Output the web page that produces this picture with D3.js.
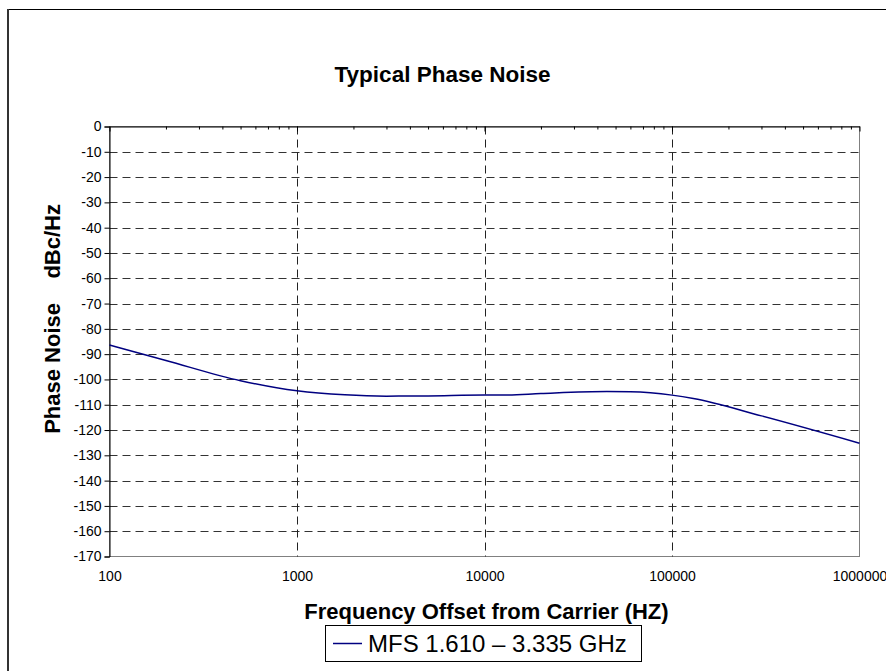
<!DOCTYPE html>
<html>
<head>
<meta charset="utf-8">
<script src="https://cdn.jsdelivr.net/npm/d3@7"></script>
<style>
  body { margin: 0; background: #fff; }
  svg { display: block; font-family: "Liberation Sans", Arial, sans-serif; }
</style>
</head>
<body>
<div id="chart"></div>
<script>
// offset frequency (Hz) and phase noise (dBc/Hz)
const freqs = [100, 200, 500, 1000, 1800, 3000, 5000, 10000, 13000, 20000, 45000, 60000, 100000, 130000, 300000, 1000000];
const noise = [-86.4, -92.5, -100.5, -104.5, -106.1, -106.6, -106.5, -106.2, -106.2, -105.6, -104.8, -104.9, -106.2, -107.5, -114.4, -125.2];
const xTicks = [100, 1000, 10000, 100000, 1000000];
const yTicks = d3.range(-170, 1, 10);
const seriesName = 'MFS 1.610 \u2013 3.335 GHz';

const width = 886;
const height = 671;
const plot = { left: 109.5, right: 859.5, top: 126.5, bottom: 556.5 };

const svg = d3.select('#chart')
  .append('svg')
  .attr('width', width)
  .attr('height', height);

// chart frame (only left and top edges fall inside the picture)
svg.append('line')
  .attr('x1', 7).attr('x2', width)
  .attr('y1', 9.5).attr('y2', 9.5)
  .attr('stroke', '#000');
svg.append('line')
  .attr('x1', 8).attr('x2', 8)
  .attr('y1', 9).attr('y2', height)
  .attr('stroke', '#333')
  .attr('stroke-width', 2);

const x = d3.scaleLog()
  .domain([100, 1000000])
  .range([plot.left, plot.right]);
const y = d3.scaleLinear()
  .domain([-170, 0])
  .range([plot.bottom, plot.top]);

// plot border
svg.append('rect')
  .attr('x', plot.left)
  .attr('y', plot.top)
  .attr('width', plot.right - plot.left)
  .attr('height', plot.bottom - plot.top)
  .attr('fill', '#fff')
  .attr('stroke', '#808080');

// grid
svg.append('g')
  .selectAll('line')
  .data(yTicks.filter((d) => d !== 0 && d !== -170))
  .enter()
  .append('line')
  .attr('x1', plot.left).attr('x2', plot.right)
  .attr('y1', (d) => Math.round(y(d)) + 0.5)
  .attr('y2', (d) => Math.round(y(d)) + 0.5)
  .attr('stroke', '#333')
  .attr('stroke-dasharray', '8,5');
svg.append('g')
  .selectAll('line')
  .data(xTicks.slice(1, -1))
  .enter()
  .append('line')
  .attr('x1', (d) => Math.round(x(d)) + 0.5)
  .attr('x2', (d) => Math.round(x(d)) + 0.5)
  .attr('y1', plot.top).attr('y2', plot.bottom)
  .attr('stroke', '#222')
  .attr('stroke-dasharray', '8,5');

// y axis (plain hyphen for negatives)
const yAxis = svg.append('g')
  .attr('transform', `translate(${plot.left},0)`)
  .call(d3.axisLeft(y).tickValues(yTicks).tickSize(5).tickPadding(3).tickFormat((d) => String(d)));
yAxis.selectAll('text')
  .attr('font-size', 14)
  .attr('font-family', '"Liberation Sans", Arial, sans-serif')
  .attr('fill', '#000');

// x axis crosses at 0 (top): minor + major ticks, no labels
const minor = [];
for (let e = 100; e < 1000000; e *= 10) {
  for (let k = 2; k <= 9; k += 1) minor.push(e * k);
}
svg.append('g')
  .attr('transform', `translate(0,${plot.top})`)
  .call(d3.axisBottom(x).tickValues(minor).tickSize(3).tickFormat(''))
  .call((g) => g.select('.domain').remove());
svg.append('g')
  .attr('transform', `translate(0,${plot.top})`)
  .call(d3.axisBottom(x).tickValues(xTicks).tickSize(5).tickSizeOuter(0).tickFormat(''));

// x labels low
const xLabels = svg.append('g')
  .attr('transform', `translate(0,${plot.bottom})`)
  .call(d3.axisBottom(x).tickValues(xTicks).tickSize(0).tickPadding(15).tickFormat((d) => String(d)));
xLabels.select('.domain').remove();
xLabels.selectAll('text')
  .attr('font-size', 14)
  .attr('font-family', '"Liberation Sans", Arial, sans-serif')
  .attr('fill', '#000');

// series
const line = d3.line()
  .x((d) => x(d[0]))
  .y((d) => y(d[1]))
  .curve(d3.curveMonotoneX);
svg.append('path')
  .datum(freqs.map((f, i) => [f, noise[i]]))
  .attr('d', line)
  .attr('fill', 'none')
  .attr('stroke', '#000080')
  .attr('stroke-width', 1.5);

// titles
svg.append('text')
  .attr('x', 442.5)
  .attr('y', 82)
  .attr('text-anchor', 'middle')
  .attr('font-size', 22.5)
  .attr('font-weight', 'bold')
  .text('Typical Phase Noise');
svg.append('text')
  .attr('transform', 'translate(60,204) rotate(-90)')
  .attr('text-anchor', 'end')
  .attr('font-size', 22)
  .attr('font-weight', 'bold')
  .style('white-space', 'pre')
  .text('Phase Noise    dBc/Hz');
svg.append('text')
  .attr('x', 486.5)
  .attr('y', 619)
  .attr('text-anchor', 'middle')
  .attr('font-size', 22)
  .attr('font-weight', 'bold')
  .text('Frequency Offset from Carrier (HZ)');

// legend
const legend = svg.append('g');
legend.append('rect')
  .attr('x', 325.5).attr('y', 625.5)
  .attr('width', 316).attr('height', 36)
  .attr('fill', '#fff')
  .attr('stroke', '#000');
legend.append('line')
  .attr('x1', 333).attr('x2', 362)
  .attr('y1', 643.5).attr('y2', 643.5)
  .attr('stroke', '#000080')
  .attr('stroke-width', 1.5);
legend.append('text')
  .attr('x', 368)
  .attr('y', 652)
  .attr('font-size', 24)
  .text(seriesName);
</script>
</body>
</html>
